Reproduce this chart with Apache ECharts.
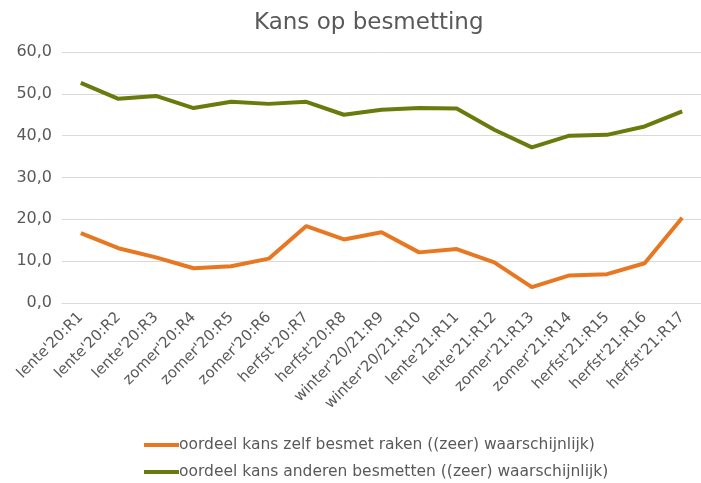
<!DOCTYPE html>
<html lang="nl">
<head>
    <meta charset="UTF-8">
    <title>Kans op besmetting</title>
    <script src="https://cdn.jsdelivr.net/npm/echarts@6/dist/echarts.min.js"></script>
    <style>
        body { margin: 0; background: #fff; }
        #chart { width: 701px; height: 483px; }
    </style>
</head>
<body>
    <div id="chart"></div>
    <script type="text/javascript">
        // data
        var rondes = ["lente'20:R1", "lente'20:R2", "lente'20:R3", "zomer'20:R4", "zomer'20:R5", "zomer'20:R6",
            "herfst'20:R7", "herfst'20:R8", "winter'20/21:R9", "winter'20/21:R10", "lente'21:R11", "lente'21:R12",
            "zomer'21:R13", "zomer'21:R14", "herfst'21:R15", "herfst'21:R16", "herfst'21:R17"];
        var zelfBesmet = [16.7, 13.1, 10.9, 8.3, 8.8, 10.6, 18.4, 15.2, 16.9, 12.1, 12.9, 9.7, 3.8, 6.6, 6.9, 9.5, 20.4];
        var anderenBesmetten = [52.6, 48.8, 49.5, 46.6, 48.1, 47.6, 48.1, 45.0, 46.2, 46.6, 46.5, 41.4, 37.2, 40.0, 40.2, 42.2, 45.8];
        var namen = ['oordeel kans zelf besmet raken ((zeer) waarschijnlijk)', 'oordeel kans anderen besmetten ((zeer) waarschijnlijk)'];

        var myChart = echarts.init(document.getElementById('chart'));
        var tekst = '#595959';
        var option = {
            textStyle: { fontFamily: 'DejaVu Sans' },
            title: {
                text: 'Kans op besmetting',
                left: 249,
                top: 7,
                textStyle: { fontFamily: 'DejaVu Sans', fontSize: 23, fontWeight: 'normal', color: tekst }
            },
            legend: {
                orient: 'vertical',
                left: 144,
                top: 437,
                padding: 0,
                itemGap: 11,
                itemWidth: 35,
                itemHeight: 4,
                textStyle: { fontSize: 15.5, color: tekst, padding: [0, 0, 0, -5] },
                data: namen.map(function (n) { return { name: n, icon: 'rect' }; })
            },
            grid: { left: 62, right: -17, top: 52, bottom: 180 },
            xAxis: {
                type: 'category',
                data: rondes,
                boundaryGap: true,
                axisLine: { lineStyle: { color: '#d9d9d9' } },
                axisTick: { show: false },
                axisLabel: { rotate: 45, interval: 0, fontSize: 15, color: tekst, margin: 12 }
            },
            yAxis: {
                type: 'value',
                min: 0,
                max: 60,
                interval: 10,
                axisLabel: {
                    fontSize: 16,
                    color: tekst,
                    margin: 10,
                    formatter: function (v) { return v.toFixed(1).replace('.', ','); }
                },
                splitLine: { lineStyle: { color: '#d9d9d9' } }
            },
            series: [
                {
                    name: namen[0],
                    type: 'line',
                    data: zelfBesmet,
                    symbol: 'none',
                    itemStyle: { color: '#E87722' },
                    lineStyle: { width: 4, color: '#E87722' }
                },
                {
                    name: namen[1],
                    type: 'line',
                    data: anderenBesmetten,
                    symbol: 'none',
                    itemStyle: { color: '#6B7A0C' },
                    lineStyle: { width: 4, color: '#6B7A0C' }
                }
            ]
        };
        myChart.setOption(option);
    </script>
</body>
</html>
